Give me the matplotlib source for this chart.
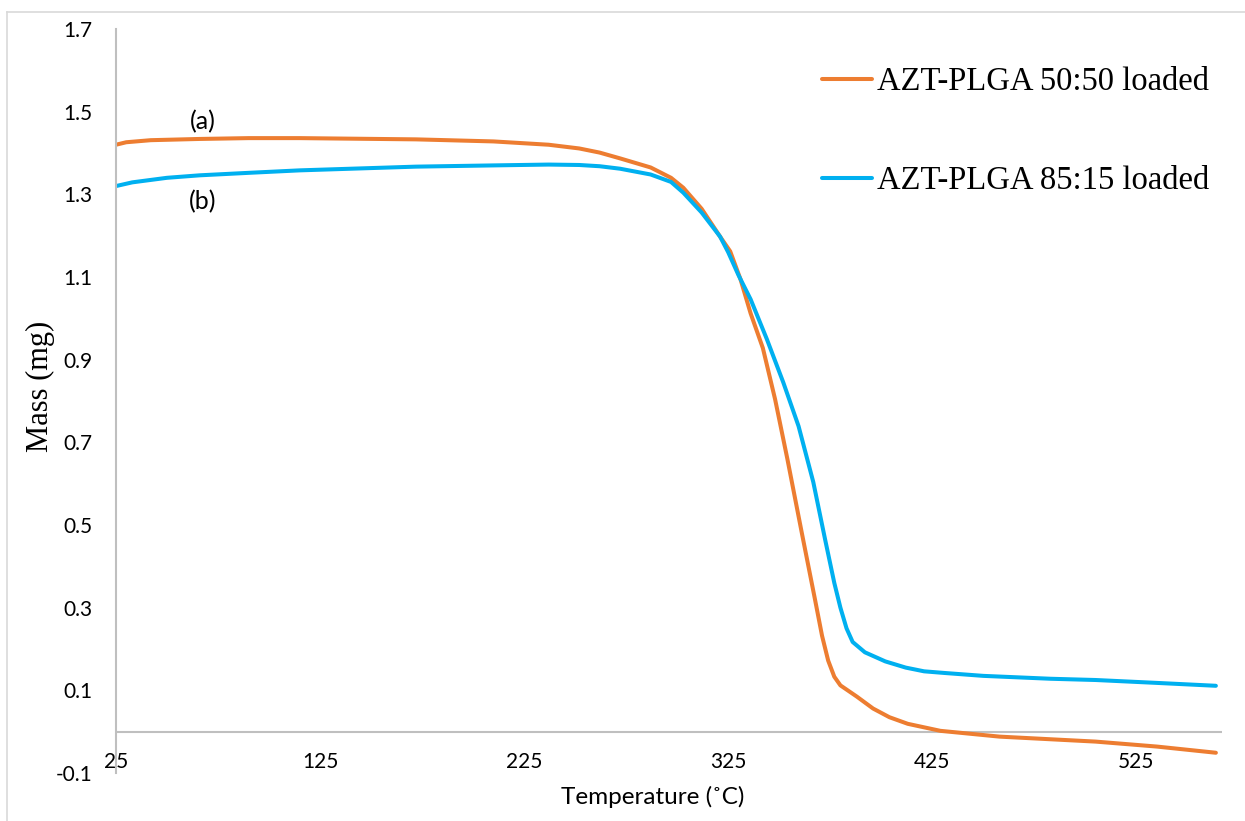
import matplotlib
matplotlib.use('Agg')
import matplotlib.pyplot as plt
from matplotlib.lines import Line2D

plt.rcParams['font.family'] = ['Lato', 'DejaVu Sans']

# 读图得到的数据点 (温度 ˚C, 质量 mg)
temp_a = [25, 30, 42, 66, 90, 115, 172, 210, 237, 252, 262, 272, 287, 297, 303, 312,
          321, 326, 331, 336, 342, 348, 354, 361, 367.5, 371, 374, 377, 380, 388, 396,
          404, 413, 429, 458, 505, 535, 564]
mass_a = [1.420, 1.426, 1.431, 1.434, 1.436, 1.436, 1.433, 1.428, 1.420, 1.411, 1.401,
          1.387, 1.365, 1.340, 1.316, 1.265, 1.198, 1.162, 1.095, 1.012, 0.928, 0.804,
          0.660, 0.483, 0.321, 0.232, 0.172, 0.133, 0.112, 0.085, 0.056,
          0.035, 0.019, 0.002, -0.012, -0.024, -0.036, -0.051]

temp_b = [25, 33, 50, 66, 90, 115, 172, 210, 237, 252, 262, 272, 287, 297, 303, 312,
          321, 325, 330, 336, 344, 352, 359.5, 366.7, 372.5, 377, 380, 383, 386, 392,
          402, 412, 421, 431, 450, 483, 505, 535, 564]
mass_b = [1.320, 1.329, 1.340, 1.346, 1.352, 1.358, 1.367, 1.370, 1.372, 1.371, 1.368,
          1.362, 1.348, 1.330, 1.304, 1.256, 1.198, 1.160, 1.105, 1.046, 0.949, 0.845,
          0.739, 0.604, 0.465, 0.360, 0.300, 0.250, 0.217, 0.192,
          0.170, 0.155, 0.146, 0.142, 0.135, 0.128, 0.125, 0.118, 0.111]

labels = ['AZT-PLGA 50:50 loaded', 'AZT-PLGA 85:15 loaded']
colors = ['#ED7D31', '#00B0F0']
x_ticks = [25, 125, 225, 325, 425, 525]
y_ticks = [-0.1, 0.1, 0.3, 0.5, 0.7, 0.9, 1.1, 1.3, 1.5, 1.7]

W, H = 1245, 821
fig = plt.figure(figsize=(W / 100, H / 100), dpi=100)
ax = fig.add_axes([116 / W, 1 - 773 / H, (1222 - 116) / W, (773 - 29) / H])

ax.plot(temp_a, mass_a, color=colors[0], lw=2.9, label=labels[0], solid_capstyle='round')
ax.plot(temp_b, mass_b, color=colors[1], lw=2.9, label=labels[1], solid_capstyle='round')

ax.set_xlim(25, 567)
ax.set_ylim(-0.1, 1.7)
ax.set_xticks(x_ticks)
ax.set_xticklabels([str(t) for t in x_ticks])
ax.set_yticks(y_ticks)
ax.set_yticklabels([f'{v:.1f}' for v in y_ticks])
ax.tick_params(axis='x', length=0, pad=-15, labelsize=15)
ax.tick_params(axis='y', length=0, pad=17, labelsize=15)

for s in ['top', 'right', 'bottom']:
    ax.spines[s].set_visible(False)
ax.spines['left'].set_color('#BFBFBF')
ax.spines['left'].set_linewidth(1.5)
ax.axhline(0, color='#BFBFBF', lw=1.5, zorder=0)

# 坐标轴标题
ax.text(0.4855, -0.032, 'Temperature (˚C)', transform=ax.transAxes,
        ha='center', va='center', fontsize=17.5)
ax.text(-0.0687, 0.519, 'Mass (mg)', transform=ax.transAxes, rotation=90,
        ha='center', va='center', fontsize=22, family='Liberation Serif')

# 曲线标注
ax.text(67.5, 1.476, '(a)', ha='center', va='center', fontsize=18)
ax.text(67.5, 1.283, '(b)', ha='center', va='center', fontsize=18)

leg = ax.legend(loc='upper left', bbox_to_anchor=((799 - 116) / 1106, 0.98),
                frameon=False, handlelength=1.55, handletextpad=0.15,
                labelspacing=2.1, borderaxespad=0.3,
                prop={'family': 'Liberation Serif', 'size': 23.5})

# 外框线 (左、上)
fig.add_artist(Line2D([7 / W, 7 / W], [0, 1 - 12 / H], color='#D9D9D9', lw=1.2))
fig.add_artist(Line2D([7 / W, 1], [1 - 12 / H, 1 - 12 / H], color='#D9D9D9', lw=1.2))

fig.savefig('out.png', dpi=100)
